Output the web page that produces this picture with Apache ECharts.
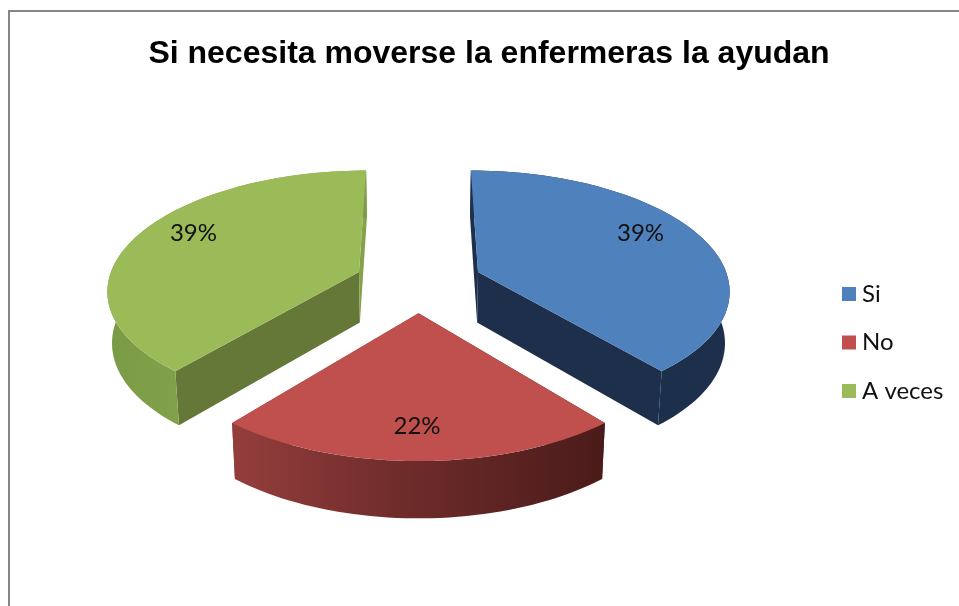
<!DOCTYPE html>
<html>
<head>
<meta charset="utf-8">
<style>
  html, body { margin: 0; padding: 0; background: #fff; }
  #main { width: 959px; height: 606px; }
</style>
<script src="https://cdn.jsdelivr.net/npm/echarts@6/dist/echarts.min.js"></script>
</head>
<body>
<div id="main"></div>
<script>
var titleText = 'Si necesita moverse la enfermeras la ayudan';
var categories = ['Si', 'No', 'A veces'];
var values = [39, 22, 39];

// colours per slice
var topColors = ['#4f81bd', '#c0504d', '#9bbb59'];
var startWall = ['#1d2f4a', '#4a1c1b', '#657837'];
var endWall = ['#1d2f4a', '#8f3c3b', '#84a24b'];
var rimStops = [
    [[0, '#1d324b'], [1, '#1d2f4a']],
    [[0, '#943e3c'], [0.45, '#6f2c2b'], [1, '#4a1b1a']],
    [[0, '#7a9a45'], [0.6, '#8aa94f'], [1, '#7d9c47']]
];

// projection of the tilted disc
var cx = 418.5, cy = 282, R = 251, explode = 64, tilt = 0.47, persp = 0.00055;
var total = values.reduce(function (a, b) { return a + b; }, 0);

function project(X, Y, low) {
    var s = 1 / (1 - persp * Y);
    var px = cx + X * s * (low ? 0.985 : 1);
    var py = cy + Y * tilt * s + (low ? 21 + 30 * s : 0);
    return [px, py];
}

function sliceGeometry(index) {
    var before = values.slice(0, index).reduce(function (a, b) { return a + b; }, 0);
    var a0 = before / total * Math.PI * 2;
    var a1 = (before + values[index]) / total * Math.PI * 2;
    var mid = (a0 + a1) / 2;
    return { a0: a0, a1: a1, mid: mid, ox: explode * Math.sin(mid), oy: -explode * Math.cos(mid) };
}

function arc(g, from, to, radius, low) {
    var pts = [];
    var n = Math.max(2, Math.ceil(Math.abs(to - from) / 0.03));
    for (var i = 0; i <= n; i++) {
        var a = from + (to - from) * i / n;
        pts.push(project(g.ox + radius * Math.sin(a), g.oy - radius * Math.cos(a), low));
    }
    return pts;
}

function poly(points, fill) {
    return { type: 'polygon', shape: { points: points }, style: { fill: fill } };
}

function drawSlice(index) {
    return function (params, api) {
        var g = sliceGeometry(index);
        var apexHi = project(g.ox, g.oy, false);
        var apexLo = project(g.ox, g.oy, true);
        var topArc = arc(g, g.a0, g.a1, R, false);
        var lowArc = arc(g, g.a0, g.a1, R, true);
        var rim = topArc.concat(lowArc.slice().reverse());

        // label sits slightly above the middle of the slice
        var la = g.mid - 0.13 * Math.sin(g.mid);
        var lp = project(g.ox + 0.79 * R * Math.sin(la), g.oy - 0.79 * R * Math.cos(la), false);

        return {
            type: 'group',
            children: [
                poly([topArc[0], apexHi, apexLo, lowArc[0]], startWall[index]),
                poly([topArc[topArc.length - 1], apexHi, apexLo, lowArc[lowArc.length - 1]], endWall[index]),
                poly(rim, {
                    type: 'linear', x: 0, y: 0, x2: 1, y2: 0,
                    colorStops: rimStops[index].map(function (s) { return { offset: s[0], color: s[1] }; })
                }),
                poly([apexHi].concat(topArc), topColors[index]),
                {
                    type: 'text',
                    style: {
                        text: Math.round(api.value(0) / total * 100) + '%',
                        x: lp[0] - 1.5, y: lp[1],
                        fill: '#111',
                        font: '24px Lato',
                        align: 'center',
                        verticalAlign: 'middle'
                    }
                }
            ]
        };
    };
}

var chart = echarts.init(document.getElementById('main'));
chart.setOption({
    animation: false,
    backgroundColor: '#fff',
    title: {
        text: titleText,
        left: 484,
        top: 33,
        textAlign: 'center',
        textStyle: { fontFamily: 'Liberation Sans', fontWeight: 'bold', fontSize: 32, color: '#000' }
    },
    legend: {
        orient: 'vertical',
        left: 837,
        top: 277,
        itemWidth: 14,
        itemHeight: 14,
        itemGap: 24.5,
        icon: 'rect',
        selectedMode: false,
        data: categories,
        textStyle: { fontFamily: 'Lato', fontSize: 24, color: '#111', padding: [0, 0, 0, 1], lineHeight: 22 }
    },
    graphic: [
        { type: 'line', shape: { x1: 9, y1: 11, x2: 959, y2: 11 }, style: { stroke: '#868686', lineWidth: 2 } },
        { type: 'line', shape: { x1: 9, y1: 10, x2: 9, y2: 606 }, style: { stroke: '#868686', lineWidth: 2 } }
    ],
    series: categories.map(function (name, i) {
        return {
            name: name,
            type: 'custom',
            coordinateSystem: 'none',
            silent: true,
            itemStyle: { color: topColors[i] },
            renderItem: drawSlice(i),
            data: [[values[i]]]
        };
    })
});
</script>
</body>
</html>
